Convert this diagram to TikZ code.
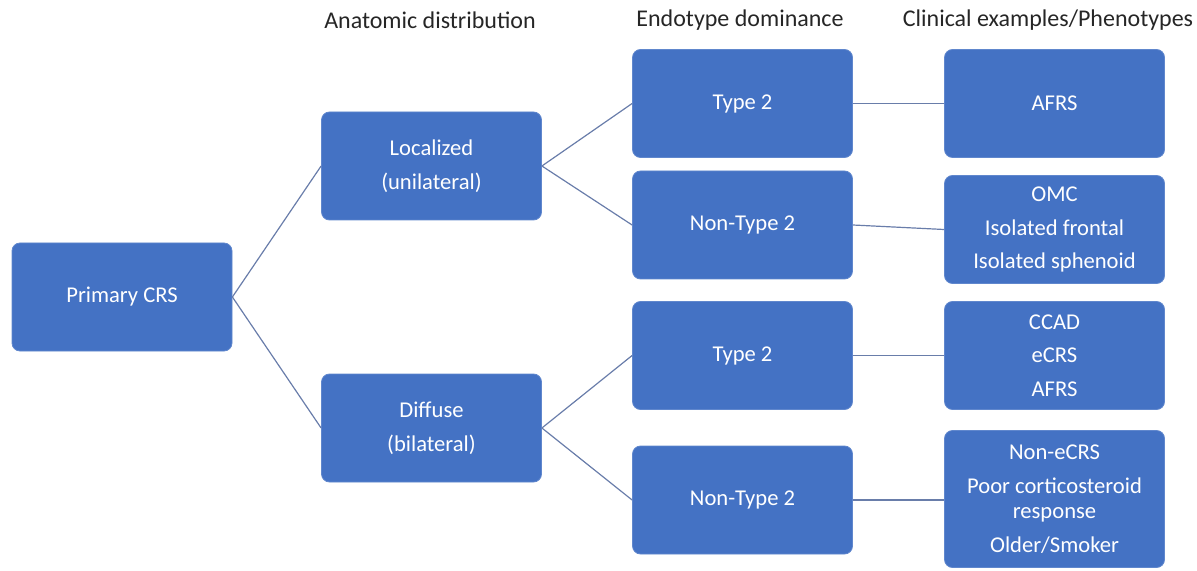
\documentclass[tikz,border=0pt]{standalone}
\usepackage{fontspec}
\setmainfont{Carlito}
\usetikzlibrary{positioning}

\definecolor{boxblue}{RGB}{68,114,196}
\definecolor{linkgray}{RGB}{105,125,170}

\tikzset{
  crsbox/.style={fill=boxblue, draw=boxblue!85!white, rounded corners=4pt,
    minimum width=110pt, minimum height=54pt, inner sep=0pt,
    text=white, align=center, font=\fontsize{11.3}{16.8}\selectfont},
  link/.style={draw=linkgray, line width=0.6pt},
  header/.style={font=\fontsize{12}{14}\selectfont, text=black!85}
}

\begin{document}
\begin{tikzpicture}[x=0.5pt,y=-0.5pt]
        \useasboundingbox (0,0) rectangle (1197,571);

        % Column headings
        \node[header] (hanat) at (430,20) {Anatomic distribution};
        \node[header] (hendo) at (740,20) {Endotype dominance};
        \node[header] (hclin) at (1048,20) {Clinical examples/Phenotypes};

        % Root
        \node[crsbox] (prim) at (122,297) {Primary CRS};

        % Anatomic distribution
        \node[crsbox] (loc) at (431.5,166) {Localized\\(unilateral)};
        \node[crsbox] (dif) at (431.5,428) {Diffuse\\(bilateral)};

        % Endotype dominance
        \node[crsbox] (typea) at (742.5,103.5) {Type 2};
        \node[crsbox] (ntypea) at (742.5,225) {Non-Type 2};
        \node[crsbox] (typeb) at (742.5,355.5) {Type 2};
        \node[crsbox] (ntypeb) at (742.5,500) {Non-Type 2};

        % Phenotypes
        \node[crsbox] (afrs) at (1054.5,103.5) {AFRS};
        \node[crsbox] (omc) at (1054.5,229.5) {OMC\\Isolated frontal\\Isolated sphenoid};
        \node[crsbox] (ccad) at (1054.5,355.5) {CCAD\\eCRS\\AFRS};
        \node[crsbox, minimum height=68.5pt] (necrs) at (1054.5,499)
            {Non-eCRS\\Poor corticosteroid\\[-4pt]response\\Older/Smoker};

        % Connectors
        \draw[link] (prim.east) -- (loc.west);
        \draw[link] (prim.east) -- (dif.west);
        \draw[link] (loc.east) -- (typea.west);
        \draw[link] (loc.east) -- (ntypea.west);
        \draw[link] (dif.east) -- (typeb.west);
        \draw[link] (dif.east) -- (ntypeb.west);
        \draw[link] (typea.east) -- (afrs.west);
        \draw[link] (ntypea.east) -- (omc.west);
        \draw[link] (typeb.east) -- (ccad.west);
        \draw[link] (ntypeb.east) -- (ntypeb.east -| necrs.west);
    \end{tikzpicture}
\end{document}
